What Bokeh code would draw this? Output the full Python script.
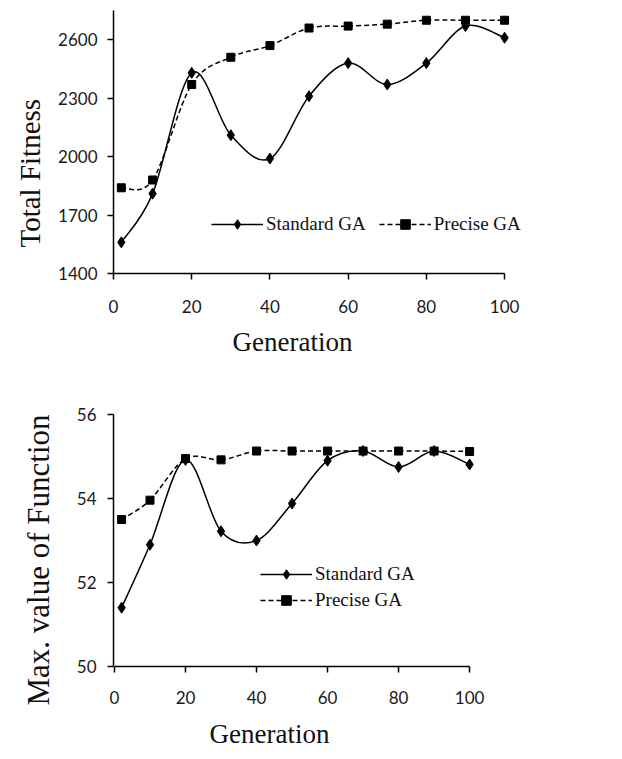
from bokeh.plotting import figure
from bokeh.layouts import column
from bokeh.models import Range1d, FixedTicker, Legend, LegendItem, Title
from bokeh.embed import file_html
from bokeh.resources import INLINE

# ---------------- data ----------------
generation = [2, 10, 20, 30, 40, 50, 60, 70, 80, 90, 100]

fitness_standard = [1560, 1810, 2430, 2110, 1990, 2310, 2480, 2370, 2480, 2670, 2610]
fitness_precise = [1840, 1880, 2370, 2510, 2570, 2660, 2670, 2680, 2700, 2700, 2700]

maxval_standard = [51.4, 52.9, 54.92, 53.22, 53.0, 53.88, 54.9, 55.13, 54.75, 55.13, 54.81]
maxval_precise = [53.5, 53.96, 54.95, 54.92, 55.13, 55.13, 55.13, 55.13, 55.13, 55.13, 55.12]

x_ticks = [0, 20, 40, 60, 80, 100]
fitness_ticks = [1400, 1700, 2000, 2300, 2600]
maxval_ticks = [50, 52, 54, 56]

SERIF = "Liberation Serif"
SANS = "Lato"


def bezier_source(xs, ys):
    """Catmull-Rom smoothing (spreadsheet-style 'smoothed line') as cubic Bezier segments."""
    n = len(xs)
    d = dict(x0=[], y0=[], x1=[], y1=[], cx0=[], cy0=[], cx1=[], cy1=[])
    for i in range(n - 1):
        im = max(i - 1, 0)
        ip2 = min(i + 2, n - 1)
        d["x0"].append(xs[i]); d["y0"].append(ys[i])
        d["x1"].append(xs[i + 1]); d["y1"].append(ys[i + 1])
        d["cx0"].append(xs[i] + (xs[i + 1] - xs[im]) / 6.0)
        d["cy0"].append(ys[i] + (ys[i + 1] - ys[im]) / 6.0)
        d["cx1"].append(xs[i + 1] - (xs[ip2] - xs[i]) / 6.0)
        d["cy1"].append(ys[i + 1] - (ys[ip2] - ys[i]) / 6.0)
    return d


def side_title(text, size, offset, valign, standoff):
    return Title(text=text, align="left", offset=offset, standoff=standoff, vertical_align=valign,
                 text_font=SERIF, text_font_size=size, text_font_style="normal", text_color="#111111")


def make_panel(height, x_range, borders, y_range, y_ticks, std, pre,
               ylabel, ylabel_size, ylabel_offset, ylabel_standoff,
               xlabel_offset, xlabel_standoff,
               legend_loc, legend_orient, legend_spacing, x_standoff, y_standoff):
    bl, br, bt, bb = borders
    p = figure(width=622, height=height, output_backend="svg", toolbar_location=None,
               x_range=Range1d(*x_range), y_range=Range1d(*y_range),
               min_border_left=bl, min_border_right=br, min_border_top=bt, min_border_bottom=bb)
    p.outline_line_color = None
    p.grid.visible = False
    p.background_fill_color = "white"
    p.border_fill_color = "white"

    for ax in (p.xaxis[0], p.yaxis[0]):
        ax.axis_line_color = "black"
        ax.axis_line_width = 1.5
        ax.major_tick_line_color = "black"
        ax.major_tick_line_width = 1.5
        ax.major_tick_in = 0
        ax.major_tick_out = 6
        ax.minor_tick_line_color = None
        ax.major_label_text_font = SANS
        ax.major_label_text_font_size = "17px"
        ax.major_label_text_color = "#1a1a1a"
    p.xaxis[0].ticker = FixedTicker(ticks=x_ticks)
    p.xaxis[0].bounds = (0, 100)
    p.yaxis[0].ticker = FixedTicker(ticks=y_ticks)
    p.xaxis[0].major_label_standoff = x_standoff
    p.yaxis[0].major_label_standoff = y_standoff

    p.add_layout(side_title(ylabel, ylabel_size, ylabel_offset, "top", ylabel_standoff), "left")
    p.add_layout(side_title("Generation", "27px", xlabel_offset, "bottom", xlabel_standoff), "below")

    pre_curve = p.bezier(source=bezier_source(generation, pre), x0="x0", y0="y0", x1="x1", y1="y1",
                         cx0="cx0", cy0="cy0", cx1="cx1", cy1="cy1",
                         line_color="black", line_width=1.5, line_dash="5 3")
    pre_pts = p.scatter(generation, pre, marker="square", size=8, fill_color="black", line_color="black")
    std_curve = p.bezier(source=bezier_source(generation, std), x0="x0", y0="y0", x1="x1", y1="y1",
                         cx0="cx0", cy0="cy0", cx1="cx1", cy1="cy1",
                         line_color="black", line_width=1.5)
    std_pts = p.scatter(generation, std, marker="diamond", size=11, fill_color="black", line_color="black")

    legend = Legend(items=[LegendItem(label="Standard GA", renderers=[std_curve, std_pts]),
                           LegendItem(label="Precise GA", renderers=[pre_curve, pre_pts])],
                    location=legend_loc, orientation=legend_orient,
                    label_text_font=SERIF, label_text_font_size="19px", label_text_color="#111111",
                    glyph_width=52, glyph_height=24, label_height=24, label_standoff=3,
                    spacing=legend_spacing,
                    padding=0, margin=0, border_line_alpha=0, background_fill_alpha=0)
    p.add_layout(legend)
    return p


# top: frame x 113..560 (0 -> 113, 100 -> 504), y 10..273
top = make_panel(380, (0, 114.3), (113, 62, 10, 107), (1400, 2750), fitness_ticks,
                 fitness_standard, fitness_precise,
                 "Total Fitness", "29px", 26, 16,
                 119, 18,
                 (98, 37), "horizontal", 13, 20, 10)
# bottom: frame x 113..560 (0 -> 114, 100 -> 469), y 414..666 (page)
bottom = make_panel(379, (-0.28, 125.6), (113, 62, 34, 93), (50, 56), maxval_ticks,
                    maxval_standard, maxval_precise,
                    "Max. value of Function", "31px", -39, 32,
                    96, 20,
                    (147, 54), "vertical", 2, 18, 11)

layout = column(top, bottom, spacing=0)
open("out.html", "w").write(file_html(layout, INLINE))
